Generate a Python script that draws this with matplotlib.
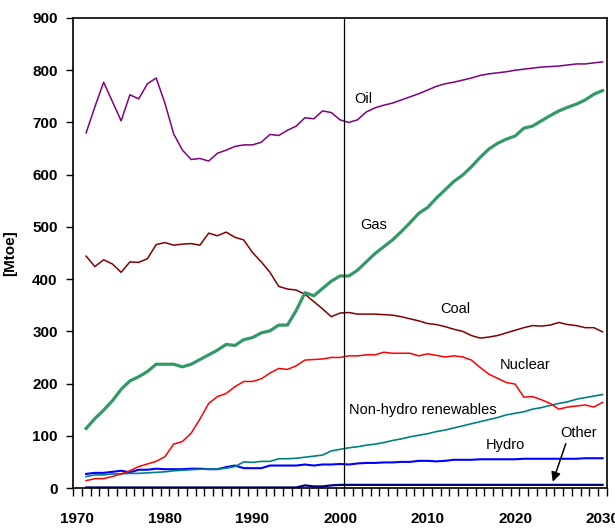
import numpy as np
import matplotlib
matplotlib.use("Agg")
import matplotlib.pyplot as plt

plt.rcParams['font.family'] = ['Liberation Sans', 'DejaVu Sans']

years = np.arange(1971, 2031)

oil = [680, 730, 777, 740, 703, 753, 745, 774, 785, 737,
       678, 647, 629, 631, 626, 641, 647, 654, 657, 657,
       662, 677, 675, 685, 693, 709, 707, 722, 719, 705,
       700, 705, 720, 728, 733, 737, 743, 749, 755, 762,
       769, 774, 777, 781, 785, 790, 793, 795, 797, 800,
       802, 804, 806, 807, 808, 810, 812, 812, 814, 816]

gas = [114, 133, 149, 167, 189, 205, 213, 223, 237, 237,
       237, 232, 237, 246, 255, 264, 275, 273, 284, 288,
       297, 301, 312, 312, 340, 374, 368, 382, 396, 406,
       406, 417, 433, 449, 462, 475, 491, 508, 526, 537,
       555, 571, 587, 599, 615, 633, 649, 660, 668, 674,
       689, 693, 703, 713, 722, 729, 735, 743, 754, 761]

coal = [444, 424, 437, 429, 413, 433, 432, 439, 466, 470,
        465, 467, 468, 465, 488, 483, 490, 480, 475, 451,
        433, 413, 386, 381, 379, 371, 357, 343, 328, 335,
        336, 333, 333, 333, 332, 331, 328, 324, 320, 315,
        313, 309, 304, 300, 292, 287, 289, 292, 297, 302,
        307, 311, 310, 312, 317, 313, 311, 307, 307, 299]

nuclear = [14, 18, 18, 22, 27, 33, 41, 46, 51, 60,
           84, 89, 105, 132, 162, 175, 181, 194, 204, 204,
           209, 220, 229, 227, 234, 245, 246, 247, 250, 250,
           253, 253, 255, 255, 260, 258, 258, 258, 253, 257,
           254, 251, 253, 251, 245, 231, 218, 210, 202, 199,
           174, 175, 169, 162, 151, 155, 157, 159, 155, 164]

renewables = [22, 25, 25, 27, 27, 28, 28, 29, 30, 31,
              33, 34, 35, 36, 36, 36, 38, 41, 50, 49,
              51, 51, 56, 56, 57, 59, 61, 63, 71, 74,
              77, 79, 82, 84, 87, 91, 94, 98, 101, 104,
              108, 111, 115, 119, 123, 127, 131, 135, 140, 143,
              146, 151, 154, 158, 162, 165, 170, 173, 176, 179]

hydro = [27, 29, 29, 31, 33, 30, 35, 35, 37, 36,
         36, 36, 37, 37, 36, 36, 40, 43, 38, 38,
         38, 43, 43, 43, 43, 45, 43, 45, 45, 46,
         45, 47, 48, 48, 49, 49, 50, 50, 52, 52,
         51, 52, 54, 54, 54, 55, 55, 55, 55, 55,
         56, 56, 56, 56, 56, 56, 56, 57, 57, 57]

other = [1] * 25 + [5, 3, 3, 5, 6] + [6] * 30

fig = plt.figure(figsize=(6.15, 5.29), dpi=100)
ax = fig.add_axes([0.1187, 0.0775, 0.8683, 0.8885])

ax.plot(years, other, color="#000080", lw=1.6)
ax.plot(years, hydro, color="#0000FF", lw=1.5)
ax.plot(years, renewables, color="#008080", lw=1.2)
ax.plot(years, nuclear, color="#FF0000", lw=1.1)
ax.plot(years, coal, color="#800000", lw=1.1)
ax.plot(years, gas, color="#339966", lw=2.3)
ax.plot(years, oil, color="#800080", lw=1.1)

ax.axvline(2000.5, color="black", lw=0.9)

ax.set_xlim(1969.5, 2030.5)
ax.set_ylim(0, 900)
ax.set_yticks(np.arange(0, 901, 100))
ax.set_xticks(np.arange(1970, 2031, 10))
ax.set_xticks(np.arange(1969.5, 2031, 1), minor=True)
ax.tick_params(axis='x', which='major', length=0, pad=17, labelsize=11)
ax.tick_params(axis='x', which='minor', length=6, width=1, direction='out')
ax.tick_params(axis='y', length=5, width=1, direction='out', pad=6, labelsize=11)
for lab in ax.get_xticklabels() + ax.get_yticklabels():
    lab.set_fontweight('bold')
for s in ax.spines.values():
    s.set_linewidth(1.2)

ax.set_ylabel("[Mtoe]", fontsize=11, fontweight='bold')
ax.yaxis.set_label_coords(-0.105, 0.5)

fs = 10.5
ax.text(2001.6, 745, "Oil", fontsize=fs, va='center')
ax.text(2002.3, 503, "Gas", fontsize=fs, va='center')
ax.text(2011.5, 343, "Coal", fontsize=fs, va='center')
ax.text(2018.3, 236, "Nuclear", fontsize=fs, va='center')
ax.text(2001.0, 149, "Non-hydro renewables", fontsize=fs, va='center')
ax.text(2016.6, 82, "Hydro", fontsize=fs, va='center')
ax.text(2025.2, 105, "Other", fontsize=fs, va='center')
ax.annotate("", xy=(2024.2, 7), xytext=(2025.9, 90),
            arrowprops=dict(arrowstyle='-|>', color='black', lw=1.1,
                            mutation_scale=14))

fig.savefig("out.png", dpi=100)
